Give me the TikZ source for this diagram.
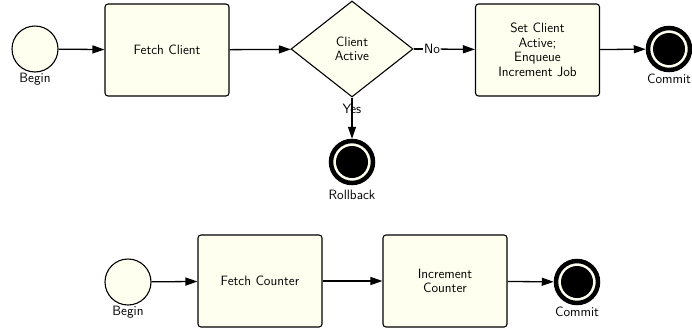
\documentclass[tikz,border=0pt]{standalone}
\usetikzlibrary{shapes.geometric,arrows.meta}
\definecolor{ivory}{HTML}{FFFFF0}
\tikzset{
  x=1pt, y=-1pt,
  every node/.style={font=\sffamily\fontsize{13.5}{14.5}\selectfont},
  task/.style={draw, line width=1.1pt, fill=ivory, rounded corners=3pt,
    minimum width=124pt, minimum height=92pt, align=center, inner sep=2pt},
  gate/.style={draw, line width=1.1pt, fill=ivory, diamond, aspect=1.27,
    minimum width=122pt, minimum height=96pt, align=center, inner sep=0pt},
  startev/.style={draw, line width=1.1pt, fill=ivory, circle, minimum size=46pt, inner sep=0pt},
  endev/.style={draw, line width=4.5pt, fill=ivory, circle, minimum size=42pt, inner sep=0pt,
    path picture={\fill[black] (path picture bounding box.center) circle (16pt);}},
  evlabel/.style={font=\sffamily\fontsize{13.5}{14.5}\selectfont, inner sep=0pt},
  flow/.style={line width=1.3pt, -{Triangle[length=12pt,width=8pt]}},
  line/.style={line width=1.3pt},
}
\begin{document}
\begin{tikzpicture}
\useasboundingbox (0,0) rectangle (692,327);

% client transaction
\node[startev] (b1) at (35,49) {};
\node[evlabel] (b1l) at (35,79) {Begin};
\node[task] (fetchc) at (167,50) {Fetch Client};
\node[gate] (active) at (352,49) {Client\\Active};
\node[task] (setc) at (537.5,50) {Set Client\\Active;\\Enqueue\\Increment Job};
\node[endev] (c1) at (669,49) {};
\node[evlabel] (c1l) at (669,79) {Commit};
\node[endev] (rb) at (352,162) {};
\node[evlabel] (rbl) at (352,195) {Rollback};
\node[evlabel, fill=white, inner sep=0.5pt] (no) at (432,49) {No};

\draw[flow] (b1) -- (fetchc);
\draw[flow] (fetchc) -- (active);
\draw[line] (active.east) -- (no);
\draw[flow] (no) -- (setc);
\draw[flow] (setc) -- (c1);
\draw[flow] (active.south) -- node[evlabel, pos=0.27] (yes) {Yes} (rb);

% counter transaction
\node[startev] (b2) at (128,282) {};
\node[evlabel] (b2l) at (128,312) {Begin};
\node[task] (fetchk) at (260,281) {Fetch Counter};
\node[task] (incr) at (445,281) {Increment\\Counter};
\node[endev] (c2) at (577,282) {};
\node[evlabel] (c2l) at (577,312) {Commit};

\draw[flow] (b2) -- (fetchk);
\draw[flow] (fetchk) -- (incr);
\draw[flow] (incr) -- (c2);
\end{tikzpicture}
\end{document}
